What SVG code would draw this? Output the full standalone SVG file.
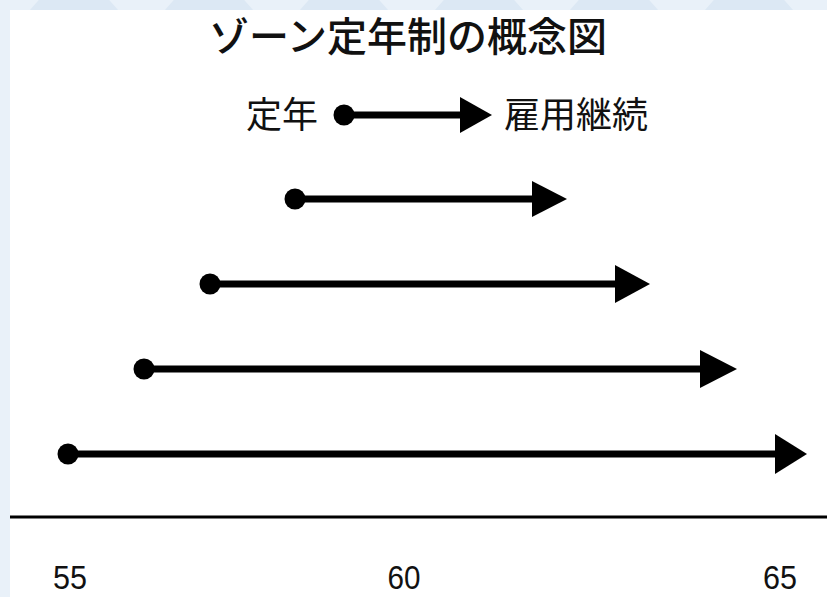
<svg xmlns="http://www.w3.org/2000/svg" width="827" height="597" viewBox="0 0 827 597">
<style>
.bg{fill:#e9f1f9}
.tri{fill:#dce8f4}
.jp{font-family:"Liberation Sans","Noto Sans CJK JP",sans-serif;fill:#111}
.num{font-family:"Liberation Sans",Arial,sans-serif;fill:#111;font-size:34px}
.shaft{stroke:#000;stroke-width:7}
.dot{fill:#000}
.head{fill:#000}
</style>
<rect class="bg" x="0" y="0" width="827" height="597"/>
<g id="bgpattern">
<polygon class="tri" points="30,10 74,-40 118,10"/>
<polygon class="tri" points="165,10 209,-40 253,10"/>
<polygon class="tri" points="300,10 344,-40 388,10"/>
<polygon class="tri" points="435,10 479,-40 523,10"/>
<polygon class="tri" points="570,10 614,-40 658,10"/>
<polygon class="tri" points="705,10 749,-40 793,10"/>
</g>
<rect x="10" y="10" width="817" height="587" fill="#fff"/>
<g id="title"><text class="jp" x="408" y="51" font-size="40" font-weight="500" text-anchor="middle">ゾーン定年制の概念図</text></g>
<g id="legend">
<text class="jp" x="318" y="128" font-size="36" text-anchor="end">定年</text>
<text class="jp" x="504" y="128" font-size="36">雇用継続</text>
</g>
<g id="connectors">
<line class="shaft" x1="344" y1="115" x2="462" y2="115"/><circle class="dot" cx="344" cy="115" r="10.5"/><polygon class="head" points="460,97 492,115 460,133"/>
<line class="shaft" x1="295" y1="199" x2="534" y2="199"/><circle class="dot" cx="295" cy="199" r="10.5"/><polygon class="head" points="532,181 567,199 532,217"/>
<line class="shaft" x1="210" y1="284" x2="617" y2="284"/><circle class="dot" cx="210" cy="284" r="10.5"/><polygon class="head" points="615,265 650,284 615,303"/>
<line class="shaft" x1="144" y1="369" x2="702" y2="369"/><circle class="dot" cx="144" cy="369" r="10.5"/><polygon class="head" points="700,350 737,369 700,388"/>
<line class="shaft" x1="68" y1="454" x2="777" y2="454"/><circle class="dot" cx="68" cy="454" r="10.5"/><polygon class="head" points="775,434 807,454 775,474"/>
</g>
<g id="axis">
<line x1="10" y1="517" x2="827" y2="517" stroke="#000" stroke-width="3"/>
<text class="num" x="70" y="589" text-anchor="middle" textLength="34" lengthAdjust="spacingAndGlyphs">55</text>
<text class="num" x="404" y="589" text-anchor="middle" textLength="33" lengthAdjust="spacingAndGlyphs">60</text>
<text class="num" x="780" y="589" text-anchor="middle" textLength="34" lengthAdjust="spacingAndGlyphs">65</text>
</g>
</svg>
